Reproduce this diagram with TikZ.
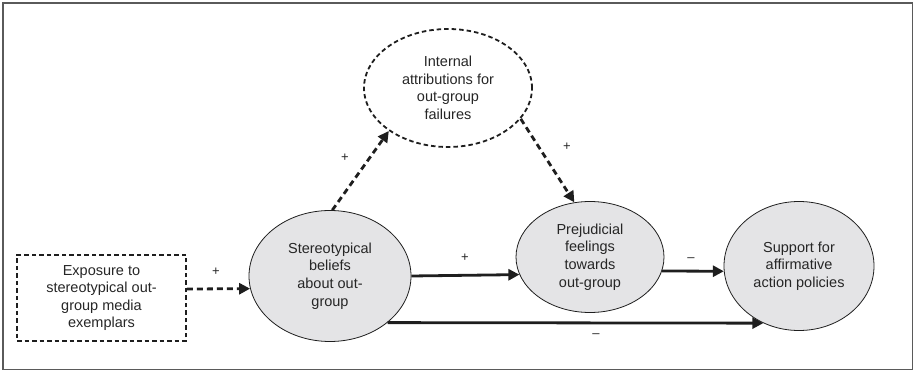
\documentclass[tikz,border=0pt]{standalone}
\usepackage{fontspec}
\setmainfont{Liberation Sans}
\usetikzlibrary{shapes.geometric,arrows.meta}
\definecolor{ink}{HTML}{1E1E1E}
\definecolor{txt}{HTML}{262626}
\definecolor{fillg}{HTML}{E4E4E6}
\definecolor{framec}{HTML}{5A5A5A}
\tikzset{
  lbl/.style={font=\fontsize{14.5}{17.6}\selectfont, text=txt, align=center},
  oval/.style={lbl, ellipse, draw=ink, line width=0.8pt, fill=fillg, inner sep=0pt},
  dashoval/.style={lbl, ellipse, draw=ink, line width=1.8pt, dash pattern=on 4.5pt off 3pt, inner sep=0pt},
  dashbox/.style={lbl, rectangle, draw=ink, line width=1.8pt, dash pattern=on 4.5pt off 3pt, inner sep=0pt},
  arr/.style={draw=ink, line width=2.8pt, -{Triangle[length=11pt,width=11pt]}},
  darr/.style={arr, dash pattern=on 6pt off 4pt},
  sign/.style={font=\fontsize{13}{15}\selectfont, text=txt, inner sep=0pt}
}
\begin{document}
\begin{tikzpicture}[x=1pt,y=1pt]
\useasboundingbox (0,0) rectangle (915,372);
\draw[framec, line width=1.5pt] (3,2.5) rectangle (912.5,369);

\node[dashbox, minimum width=169pt, minimum height=86pt] (exp) at (101.5,74) {Exposure to\\stereotypical out-\\group media\\exemplars};
\node[oval, minimum width=162pt, minimum height=131pt] (st) at (330,96) {Stereotypical\\beliefs\\about out-\\group};
\node[oval, minimum width=148pt, minimum height=111pt] (prej) at (590,115) {Prejudicial\\feelings\\towards\\out-group};
\node[oval, minimum width=150pt, minimum height=129pt] (sup) at (799,106) {Support for\\affirmative\\action policies};
\node[dashoval, minimum width=168pt, minimum height=118pt] (int) at (448,284) {Internal\\attributions for\\out-group\\failures};

\draw[darr] (exp.6) -- (st.189.3);
\draw[arr] (st.0.4) -- (prej.194.8);
\draw[arr] (prej.-11.9) -- (sup.184.6);
\draw[arr] (st.-39.8) -- (sup.238.4);
\draw[darr] (st.88) -- (int.216.7);
\draw[darr] (int.-23.6) -- (prej.106.2);

\node[sign] (p1) at (216,100) {+};
\node[sign] (p2) at (345,214) {+};
\node[sign] (p3) at (567,225) {+};
\node[sign] (p4) at (465,114) {+};
\node[sign] (m1) at (691,112) {--};
\node[sign] (m2) at (596,36) {--};
\end{tikzpicture}
\end{document}
